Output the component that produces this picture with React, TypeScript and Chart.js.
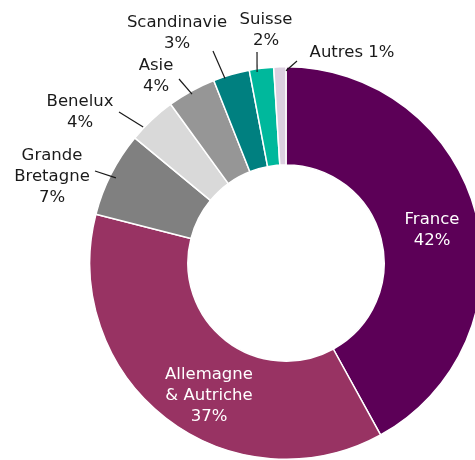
import React, { useEffect, useRef } from "react";
import { Chart, registerables } from "chart.js";

Chart.register(...registerables);

const categories = [
  "France",
  "Allemagne & Autriche",
  "Grande Bretagne",
  "Benelux",
  "Asie",
  "Scandinavie",
  "Suisse",
  "Autres",
];
const shares = [42, 37, 7, 4, 4, 3, 2, 1];
const labelLines = [
  ["France", "42%"],
  ["Allemagne", "& Autriche", "37%"],
  ["Grande", "Bretagne", "7%"],
  ["Benelux", "4%"],
  ["Asie", "4%"],
  ["Scandinavie", "3%"],
  ["Suisse", "2%"],
  ["Autres 1%"],
];
const colors = [
  "#5c0057",
  "#983363",
  "#808080",
  "#d9d9d9",
  "#969696",
  "#008080",
  "#00b89c",
  "#dcd0e0",
];

// label layout (offsets from chart centre), leader lines for outside labels
type Layout = {
  tx: number;
  ty: number;
  color: string;
  leader?: { shift: number; dr: number; ex: number; ey: number };
};
const labelLayout: Layout[] = [
  { tx: 146, ty: -33, color: "#ffffff" },
  { tx: -77, ty: 133, color: "#ffffff" },
  { tx: -234, ty: -86, color: "#1a1a1a", leader: { shift: -0.4, dr: -6, ex: -191, ey: -92 } },
  { tx: -206, ty: -151, color: "#1a1a1a", leader: { shift: -3.2, dr: 1, ex: -167, ey: -151 } },
  { tx: -130, ty: -187, color: "#1a1a1a", leader: { shift: -0.3, dr: -3, ex: -107, ey: -184 } },
  { tx: -109, ty: -230, color: "#1a1a1a", leader: { shift: -2.1, dr: -2, ex: -73, ey: -212 } },
  { tx: -20, ty: -233, color: "#1a1a1a", leader: { shift: -1.4, dr: -3, ex: -29, ey: -211 } },
  { tx: 66, ty: -210, color: "#1a1a1a", leader: { shift: 1.8, dr: -4, ex: 11, ey: -202 } },
];

const FONT = '16.5px "DejaVu Sans", Verdana, sans-serif';
const LINE_H = 21;

const labelPlugin = {
  id: "sliceLabels",
  afterDraw(chart: any) {
    const ctx = chart.ctx;
    const meta = chart.getDatasetMeta(0);
    ctx.save();
    ctx.font = FONT;
    ctx.textAlign = "center";
    ctx.textBaseline = "middle";
    meta.data.forEach((arc: any, i: number) => {
      const p = arc.getProps(["x", "y", "startAngle", "endAngle", "outerRadius"], true);
      const cx = p.x;
      const cy = p.y;
      const L = labelLayout[i];
      if (L.leader) {
        const mid = (p.startAngle + p.endAngle) / 2 + (L.leader.shift * Math.PI) / 180;
        const r = p.outerRadius + L.leader.dr;
        const sx = cx + Math.cos(mid) * r;
        const sy = cy + Math.sin(mid) * r;
        ctx.beginPath();
        ctx.strokeStyle = "#1a1a1a";
        ctx.lineWidth = 1.2;
        ctx.moveTo(sx, sy);
        ctx.lineTo(cx + L.leader.ex, cy + L.leader.ey);
        ctx.stroke();
      }
      const lines = labelLines[i];
      ctx.fillStyle = L.color;
      const top = cy + L.ty - ((lines.length - 1) * LINE_H) / 2;
      lines.forEach((t, k) => {
        ctx.fillText(t, cx + L.tx, top + k * LINE_H);
      });
    });
    ctx.restore();
  },
};

export default function App() {
  const ref = useRef<HTMLCanvasElement>(null);
  useEffect(() => {
    const canvas = ref.current!;
    const chart = new Chart(canvas, {
      type: "doughnut",
      data: {
        labels: categories,
        datasets: [
          {
            data: shares,
            backgroundColor: colors,
            borderColor: "#ffffff",
            borderWidth: 1.5,
          },
        ],
      },
      options: {
        animation: false,
        responsive: false,
        devicePixelRatio: 1,
        cutout: "50%",
        layout: { padding: { left: 89, top: 66, right: 0, bottom: 0 } },
        plugins: {
          legend: { display: false },
          tooltip: { enabled: false },
        },
      },
      plugins: [labelPlugin],
    });
    return () => chart.destroy();
  }, []);
  return (
    <div
      style={{
        position: "fixed",
        left: 0,
        top: 0,
        width: 475,
        height: 460,
        overflow: "hidden",
        background: "#ffffff",
      }}
    >
      <canvas ref={ref} width={483} height={460} style={{ width: 483, height: 460, display: "block" }} />
    </div>
  );
}
